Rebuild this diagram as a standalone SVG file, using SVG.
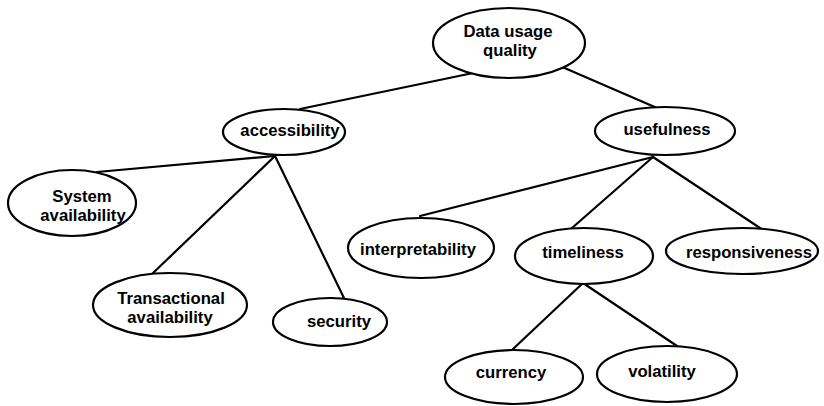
<svg xmlns="http://www.w3.org/2000/svg" width="824" height="406" viewBox="0 0 824 406">
<style>
.n ellipse{fill:#fff;stroke:#000;stroke-width:2.2}
.n text{font-family:"Liberation Sans",Arial,sans-serif;font-weight:bold;font-size:16.7px;fill:#000;text-anchor:middle}
#edges line{stroke:#000;stroke-width:2.2;stroke-linecap:round}
</style>
<rect width="824" height="406" fill="#fff"/>
<g id="edges">
<line x1="478" y1="72" x2="300" y2="109"/>
<line x1="553" y1="63" x2="657" y2="108"/>
<line x1="275" y1="156" x2="97" y2="172"/>
<line x1="275" y1="156" x2="152" y2="274"/>
<line x1="275" y1="156" x2="344" y2="298"/>
<line x1="653" y1="157" x2="420" y2="216"/>
<line x1="653" y1="157" x2="572" y2="228"/>
<line x1="653" y1="157" x2="760" y2="228"/>
<line x1="583" y1="283" x2="513" y2="349"/>
<line x1="583" y1="283" x2="680" y2="348"/>
</g>
<g id="data-usage-quality" class="n"><ellipse cx="509" cy="43" rx="76" ry="35"/><text x="508" y="37">Data usage</text><text x="510" y="56">quality</text></g>
<g id="accessibility" class="n"><ellipse cx="284" cy="132" rx="61" ry="23"/><text x="290" y="136">accessibility</text></g>
<g id="usefulness" class="n"><ellipse cx="665" cy="131" rx="70" ry="24"/><text x="667" y="135">usefulness</text></g>
<g id="system-availability" class="n"><ellipse cx="72" cy="203" rx="64" ry="33"/><text x="82" y="202">System</text><text x="83" y="221">availability</text></g>
<g id="transactional-availability" class="n"><ellipse cx="170" cy="305" rx="77" ry="32"/><text x="171" y="304">Transactional</text><text x="170" y="323">availability</text></g>
<g id="security" class="n"><ellipse cx="330" cy="322" rx="57" ry="24"/><text x="339" y="327">security</text></g>
<g id="interpretability" class="n"><ellipse cx="421" cy="248" rx="73" ry="30"/><text x="418" y="255">interpretability</text></g>
<g id="timeliness" class="n"><ellipse cx="584" cy="256" rx="69" ry="28"/><text x="583" y="258">timeliness</text></g>
<g id="responsiveness" class="n"><ellipse cx="742" cy="251" rx="76" ry="23"/><text x="749" y="258">responsiveness</text></g>
<g id="currency" class="n"><ellipse cx="514" cy="377" rx="69" ry="27"/><text x="511" y="378">currency</text></g>
<g id="volatility" class="n"><ellipse cx="667" cy="374" rx="70" ry="28"/><text x="662" y="377">volatility</text></g>
</svg>
